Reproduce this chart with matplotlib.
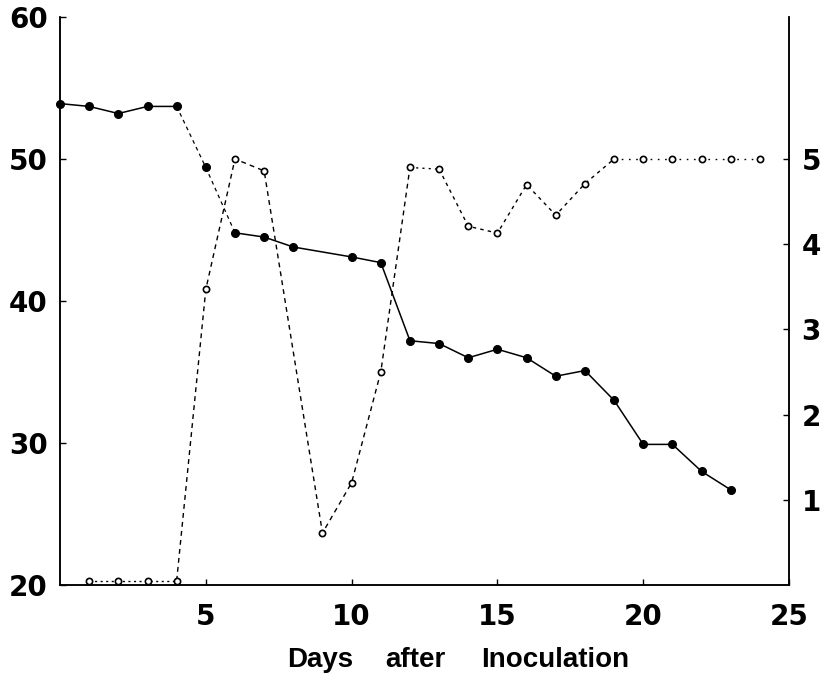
import matplotlib
matplotlib.use('Agg')
import matplotlib.pyplot as plt

plt.rcParams['font.family'] = ['DejaVu Sans']

# filled circles, left scale
fill_days = [0, 1, 2, 3, 4, 5, 6, 7, 8, 10, 11, 12, 13, 14, 15, 16, 17, 18, 19, 20, 21, 22, 23]
fill_vals = [53.9, 53.7, 53.2, 53.7, 53.7, 49.4, 44.8, 44.5, 43.8, 43.1, 42.7, 37.2, 37.0,
             36.0, 36.6, 36.0, 34.7, 35.1, 33.0, 29.9, 29.9, 28.0, 26.7]

# open circles, right scale
open_days = [1, 2, 3, 4, 5, 6, 7, 9, 10, 11, 12, 13, 14, 15, 16, 17, 18, 19, 20, 21, 22, 23, 24]
open_vals = [0.05, 0.05, 0.05, 0.05, 3.47, 5.0, 4.86, 0.61, 1.2, 2.5, 4.9, 4.88,
             4.21, 4.13, 4.7, 4.34, 4.71, 5.0, 5.0, 5.0, 5.0, 5.0, 5.0]

left_ticks = [20, 30, 40, 50, 60]
right_ticks = [1, 2, 3, 4, 5]
x_ticks = [5, 10, 15, 20, 25]
xlabel_words = ['Days', 'after', 'Inoculation']

fig = plt.figure(figsize=(8.21, 6.73), dpi=100)
ax = fig.add_axes([0.0731, 0.1308, 0.888, 0.844])
ax2 = ax.twinx()

# filled series: solid, with a broken stretch from day 4 to 6
ax.plot(fill_days[:5], fill_vals[:5], '-', color='black', lw=1.1, zorder=3)
ax.plot(fill_days[4:7], fill_vals[4:7], color='black', lw=0.9, ls=(0, (3, 3)), zorder=3)
ax.plot(fill_days[6:], fill_vals[6:], '-', color='black', lw=1.1, zorder=3)
ax.plot(fill_days, fill_vals, 'o', color='black', ms=5.5, clip_on=False, zorder=4)

# open series on the right scale
ax2.plot(open_days[:4], open_vals[:4], color='black', lw=1, ls=(0, (1.5, 2.5)))
ax2.plot(open_days[3:11], open_vals[3:11], color='black', lw=1, ls=(0, (3.5, 3)))
ax2.plot(open_days[10:12], open_vals[10:12], color='black', lw=1, ls=(0, (1.5, 3)))
ax2.plot(open_days[11:18], open_vals[11:18], color='black', lw=1, ls=(0, (2.5, 3)))
ax2.plot(open_days[17:], open_vals[17:], color='black', lw=1, ls=(0, (1.2, 4)))
ax2.plot(open_days, open_vals, 'o', mfc='white', mec='black', mew=1.2, ms=4.5,
         clip_on=False, zorder=4)

ax.set_xlim(0, 25)
ax.set_ylim(20, 60)
ax2.set_ylim(0, 40 / 6)

ax.set_xticks(x_ticks)
ax.set_yticks(left_ticks)
ax2.set_yticks(right_ticks)

for a in (ax, ax2):
    a.spines['top'].set_visible(False)
    for s in a.spines.values():
        s.set_linewidth(1.1)

ax.tick_params(axis='both', direction='in', length=4, width=1, labelsize=20, pad=9)
ax.tick_params(axis='x', pad=13)
ax2.tick_params(axis='y', direction='in', length=4, width=1, labelsize=20, pad=9)
for lab in ax.get_xticklabels() + ax.get_yticklabels() + ax2.get_yticklabels():
    lab.set_fontweight('bold')

# axis title, widely spaced words
for word, xc in zip(xlabel_words, [320, 415, 555]):
    fig.text(xc / 821, 1 - 660 / 673, word, ha='center', va='center', fontsize=20,
             fontweight='bold', family=['Liberation Sans Narrow', 'Liberation Sans'])

fig.savefig('out.png', dpi=100)
